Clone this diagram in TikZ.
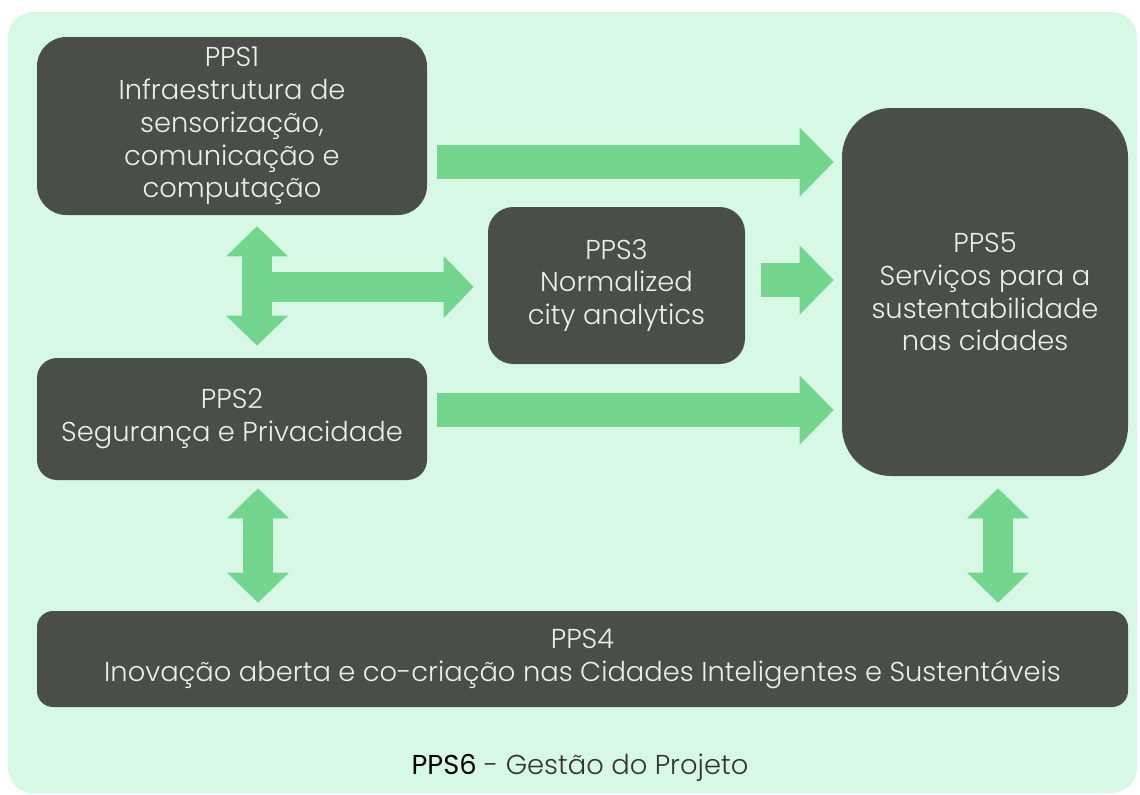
\documentclass[tikz,border=0pt]{standalone}
\usepackage{fontspec}
\setmainfont{Poppins}[UprightFont=* Light]
\newfontfamily\ppsregular{Poppins}
\usetikzlibrary{arrows.meta}
\definecolor{panelgreen}{HTML}{D8F8E6}
\definecolor{boxgray}{HTML}{494E49}
\definecolor{arrowgreen}{HTML}{74D68E}
\definecolor{boxtext}{HTML}{EDEDED}
\begin{document}
\begin{tikzpicture}[
		x=0.75pt, y=-0.75pt,
		pps/.style={fill=boxgray, text=boxtext, align=center, inner sep=0pt,
				font=\fontsize{20.5}{24.6}\selectfont},
		blockarrow/.style={draw=arrowgreen, line width=25.5pt,
				-{Triangle[length=25.5pt,width=50.25pt]}},
		duoarrow/.style={draw=arrowgreen, line width=22.5pt,
				{Triangle[length=22.5pt,width=45pt]}-{Triangle[length=22.5pt,width=45pt]}},
		branch/.style={draw=arrowgreen, line width=22.5pt,
				-{Triangle[length=22.5pt,width=45pt]}}
	]
	\useasboundingbox (0,0) rectangle (1140,794);
	\fill[panelgreen, rounded corners=19pt] (8,12) rectangle (1137,793);
	\node[pps, rounded corners=22pt, minimum width=292.5pt, minimum height=133.5pt] (pps1) at (232,126)
		{PPS1\\Infraestrutura de\\sensorização,\\comunicação e\\computação};
	\node[pps, rounded corners=15pt, minimum width=292.5pt, minimum height=91.5pt] (pps2) at (232,419)
		{PPS2\\Segurança e Privacidade};
	\node[pps, rounded corners=19pt, minimum width=192.75pt, minimum height=117.75pt] (pps3) at (616.5,285.5)
		{PPS3\\Normalized\\city analytics};
	\node[pps, rounded corners=37pt, minimum width=214.5pt, minimum height=276pt] (pps5) at (985,292)
		{PPS5\\Serviços para a\\sustentabilidade\\nas cidades};
	\node[pps, rounded corners=12pt, minimum width=818.25pt, minimum height=72pt] (pps4) at (582.5,659)
		{PPS4\\Inovação aberta e co-criação nas Cidades Inteligentes e Sustentáveis};
	\node[text=black!80, font=\fontsize{20.5}{24.6}\selectfont] (pps6) at (580,768)
		{{\ppsregular\color{black}PPS6} - Gestão do Projeto};
	\draw[blockarrow] ([xshift=7.5pt]pps1.east |- 0,162) -- ([xshift=-6pt]pps5.west |- 0,162);
	\draw[blockarrow] ([xshift=12pt]pps3.east |- 0,280) -- ([xshift=-6pt]pps5.west |- 0,280);
	\draw[blockarrow] ([xshift=7.5pt]pps2.east |- 0,410) -- ([xshift=-6pt]pps5.west |- 0,410);
	\draw[branch] (257,287) -- ([xshift=-10.5pt]pps3.west |- 0,287);
	\draw[duoarrow] ([yshift=-8.25pt]pps1.south -| 257,0) -- ([yshift=9pt]pps2.north -| 257,0);
	\draw[duoarrow] ([yshift=-6pt]pps2.south -| 258,0) -- ([yshift=6pt]pps4.north -| 258,0);
	\draw[duoarrow] ([yshift=-9pt]pps5.south -| 998,0) -- ([yshift=6pt]pps4.north -| 998,0);
\end{tikzpicture}
\end{document}
